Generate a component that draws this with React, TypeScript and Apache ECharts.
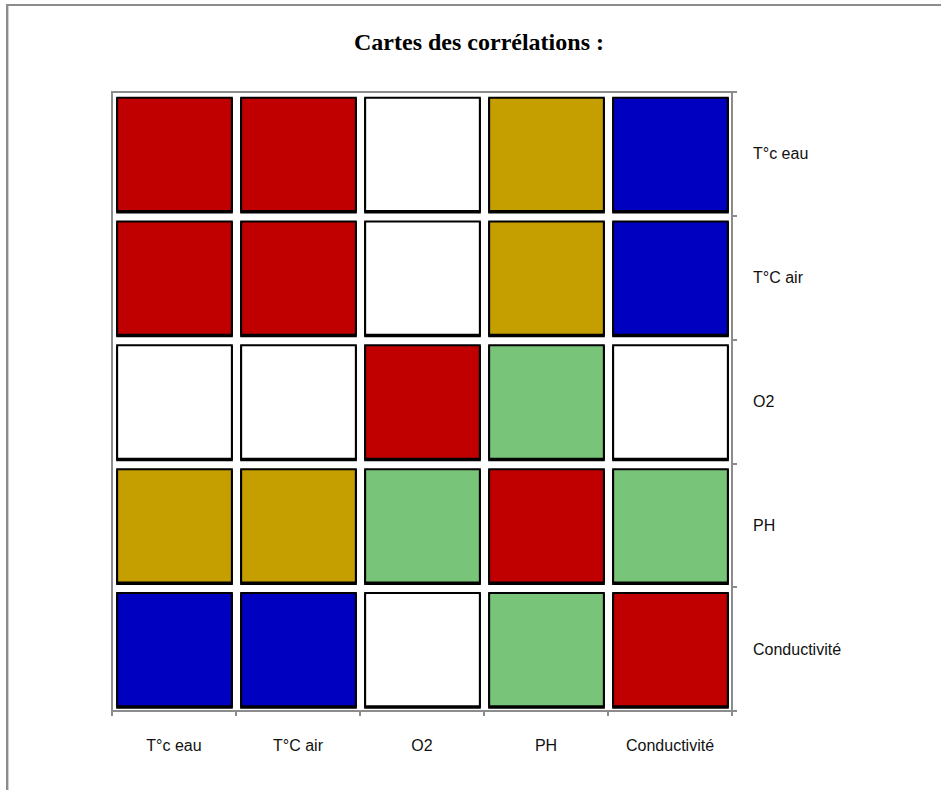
import React, { useEffect, useRef } from "react";
import * as echarts from "echarts";

// Variables (both axes)
const categories = ["T°c eau", "T°C air", "O2", "PH", "Conductivité"];

// Correlation class per cell, rows top→bottom follow `categories`, columns left→right
// 2 = strong positive, 1 = moderate positive, 0.5 = weak, 0 = none, -2 = strong negative
const rowTcEau = [2, 2, 0, 1, -2];
const rowTcAir = [2, 2, 0, 1, -2];
const rowO2 = [0, 0, 2, 0.5, 0];
const rowPH = [1, 1, 0.5, 2, 0.5];
const rowConductivite = [-2, -2, 0, 0.5, 2];
const matrix = [rowTcEau, rowTcAir, rowO2, rowPH, rowConductivite];

const titleText = "Cartes des corrélations :";

const classColor: Record<string, string> = {
  "2": "#C00000",
  "1": "#C59E00",
  "0.5": "#78C478",
  "0": "#FFFFFF",
  "-2": "#0000C0",
};

export default function App() {
  const ref = useRef<HTMLDivElement>(null);
  useEffect(() => {
    if (!ref.current) return;
    const chart = echarts.init(ref.current, null, { renderer: "svg" });
    const data: number[][] = [];
    matrix.forEach((row, yi) => {
      row.forEach((v, xi) => data.push([xi, yi, v]));
    });
    const axisColor = "#8C8C8C";
    const labelFont = "'Liberation Sans', Arial, sans-serif";
    chart.setOption({
      animation: false,
      backgroundColor: "#FFFFFF",
      grid: {
        left: 112,
        right: 209,
        top: 92,
        bottom: 79,
        show: true,
        borderColor: axisColor,
        borderWidth: 2,
      },
      graphic: [
        {
          type: "line",
          shape: { x1: 6, y1: 5, x2: 941, y2: 5 },
          style: { stroke: "#8C8C8C", lineWidth: 2 },
        },
        {
          type: "line",
          shape: { x1: 7, y1: 4, x2: 7, y2: 790 },
          style: { stroke: "#8C8C8C", lineWidth: 2 },
        },
        {
          type: "line",
          shape: { x1: 8.5, y1: 6, x2: 8.5, y2: 790 },
          style: { stroke: "#D0D0D0", lineWidth: 1 },
        },
        {
          type: "text",
          x: 479,
          y: 42,
          style: {
            text: titleText,
            font: "bold 24px 'Liberation Serif', 'Times New Roman', serif",
            fill: "#000000",
            align: "center",
            verticalAlign: "middle",
          },
        },
      ],
      xAxis: {
        type: "category",
        data: categories,
        position: "bottom",
        boundaryGap: true,
        axisLine: { show: true, lineStyle: { color: axisColor, width: 2 } },
        axisTick: { show: true, length: 5, lineStyle: { color: axisColor, width: 2 } },
        axisLabel: {
          margin: 26,
          color: "#111111",
          fontSize: 16,
          fontFamily: labelFont,
        },
        splitLine: { show: false },
      },
      yAxis: {
        type: "category",
        data: categories,
        position: "right",
        inverse: true,
        boundaryGap: true,
        axisLine: { show: true, lineStyle: { color: axisColor, width: 2 } },
        axisTick: { show: true, length: 5, lineStyle: { color: axisColor, width: 2 } },
        axisLabel: {
          margin: 21,
          color: "#111111",
          fontSize: 16,
          align: "left",
          fontFamily: labelFont,
        },
        splitLine: { show: false },
      },
      series: [
        {
          type: "custom",
          data,
          renderItem: (params: any, api: any) => {
            const c = api.coord([api.value(0), api.value(1)]);
            const s = api.size([1, 1]);
            const w = s[0] * 0.925;
            const h = s[1] * 0.915;
            const x = c[0] - w / 2 + 0.5;
            const y = c[1] - h / 2 + 0.5;
            const fill = classColor[String(api.value(2))] || "#FFFFFF";
            return {
              type: "group",
              children: [
                {
                  type: "rect",
                  shape: { x: x, y: y + 1.5, width: w, height: h },
                  style: { fill: "#000000", stroke: "#000000", lineWidth: 2 },
                },
                {
                  type: "rect",
                  shape: { x, y, width: w, height: h },
                  style: { fill, stroke: "#000000", lineWidth: 2 },
                },
              ],
            };
          },
        },
      ],
    });
    return () => chart.dispose();
  }, []);
  return (
    <div
      ref={ref}
      style={{ position: "absolute", left: 0, top: 0, width: 941, height: 790 }}
    />
  );
}
